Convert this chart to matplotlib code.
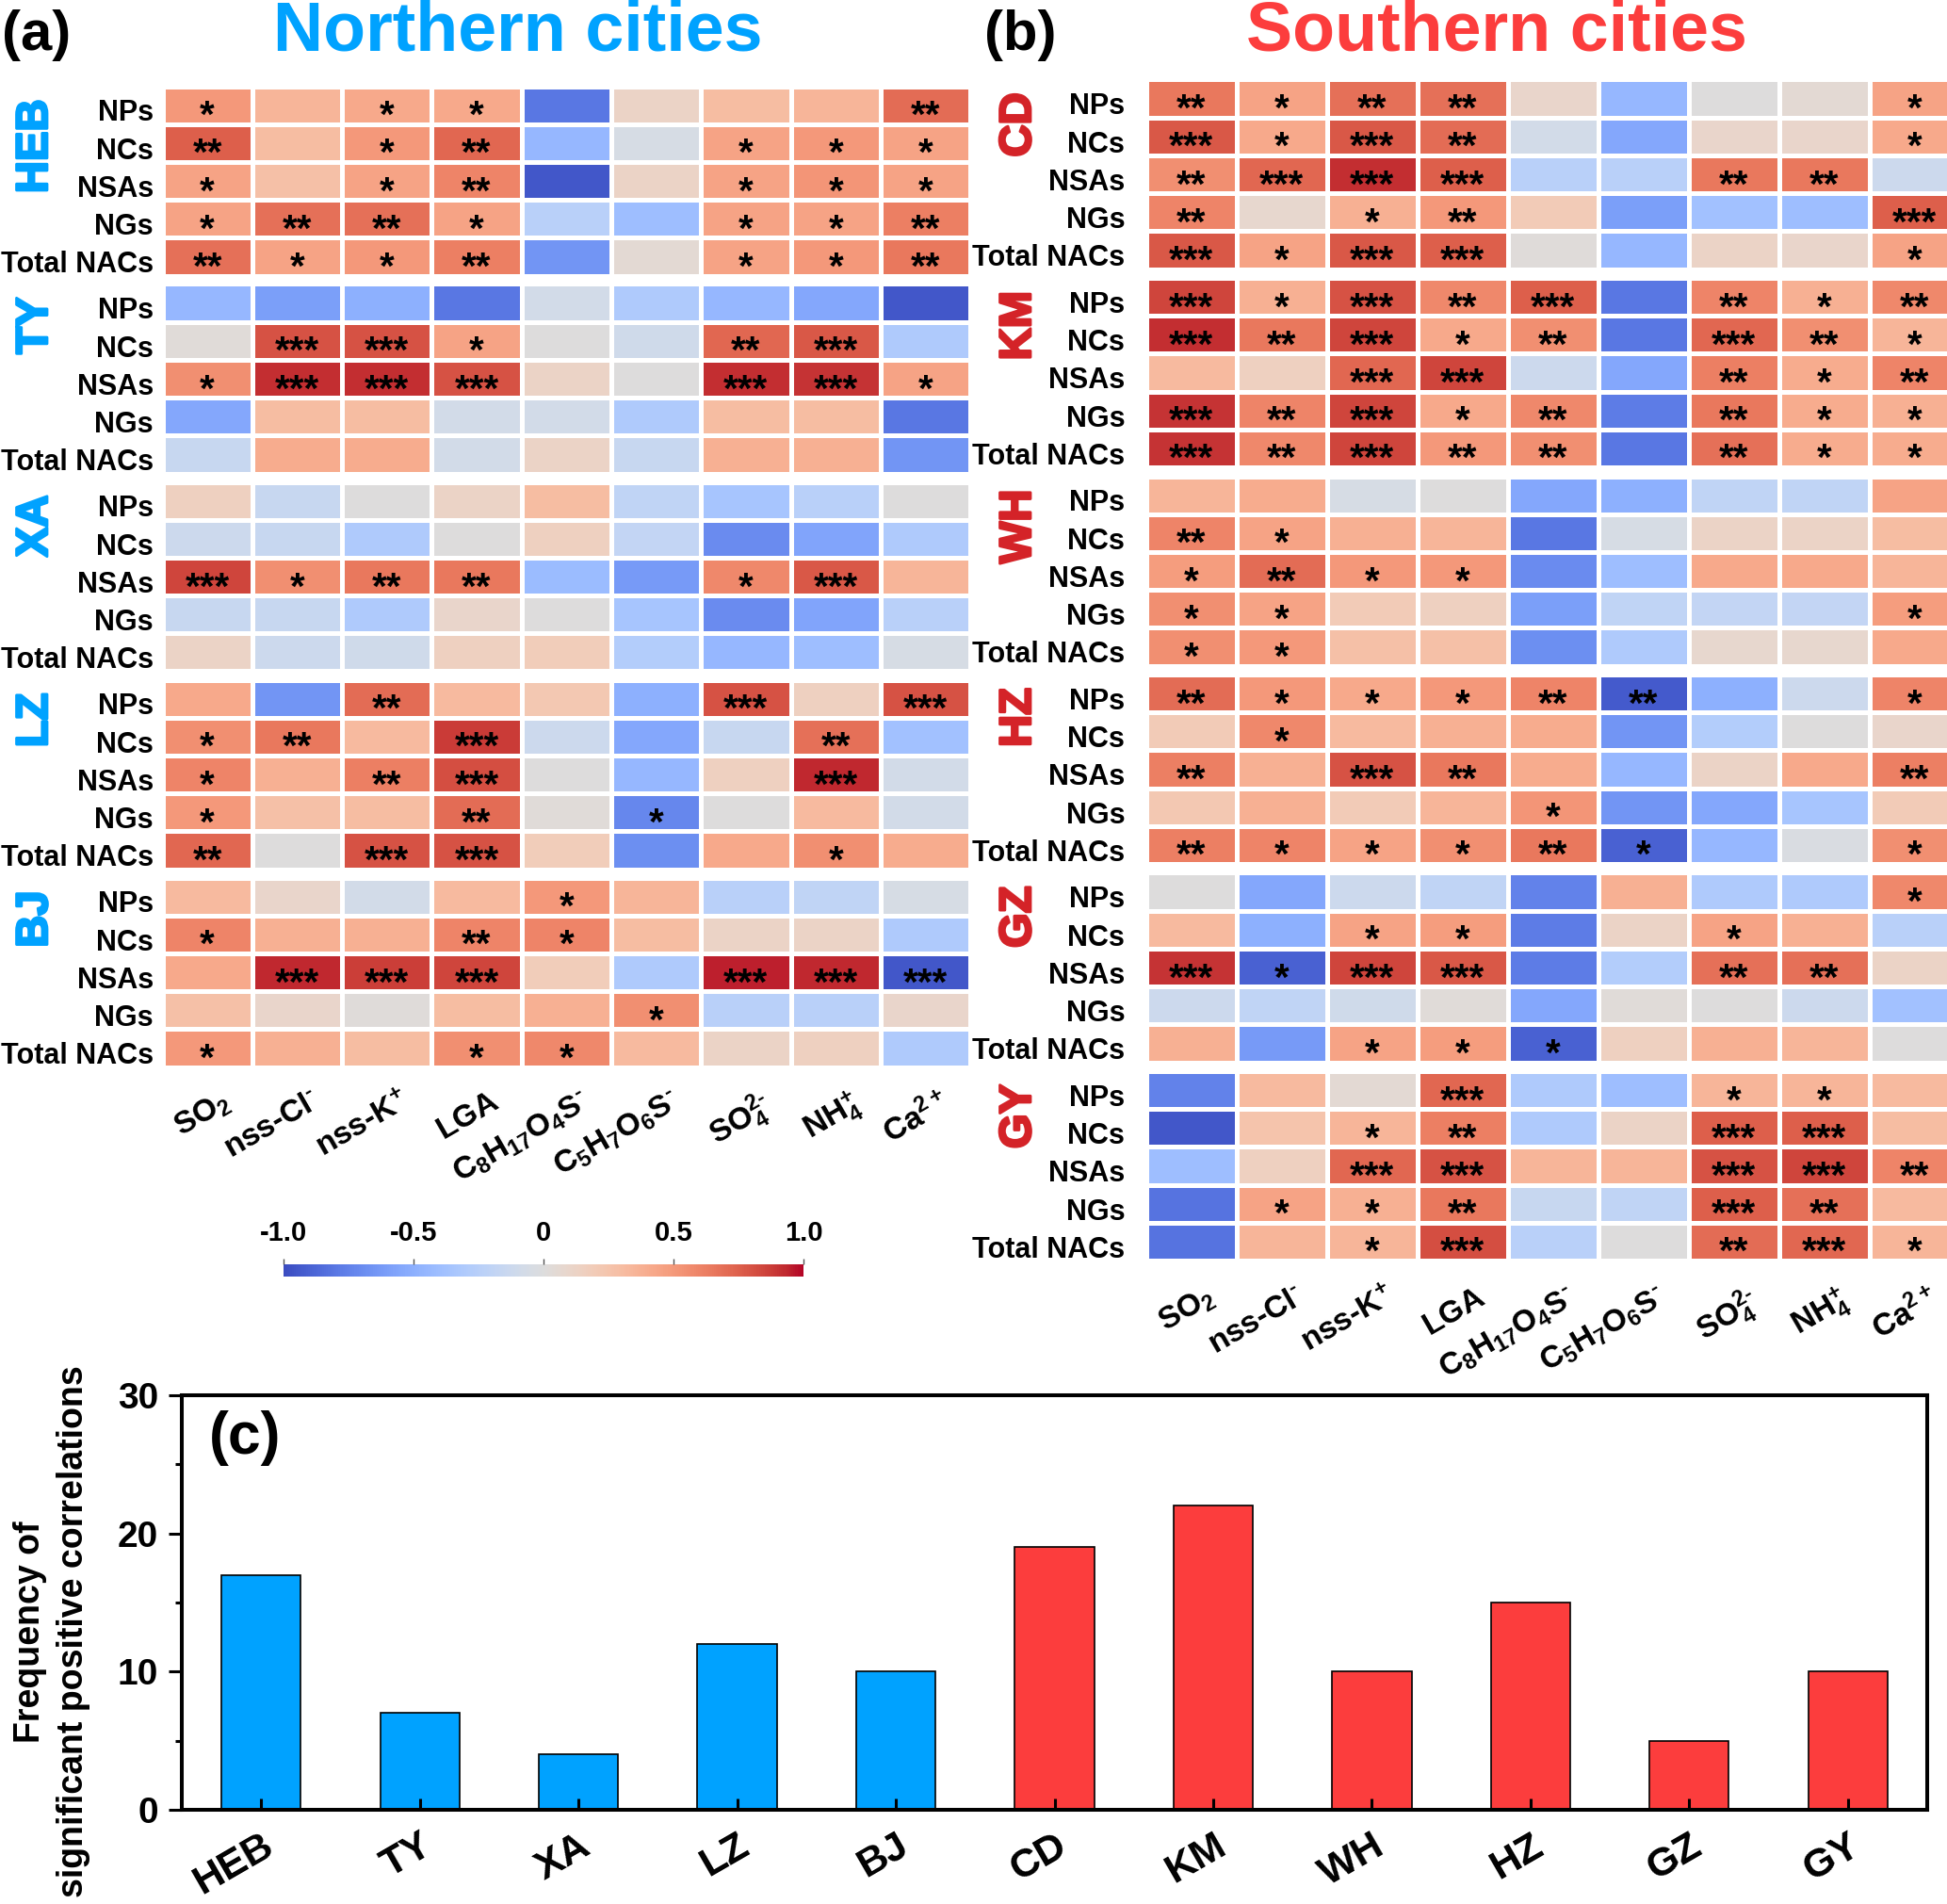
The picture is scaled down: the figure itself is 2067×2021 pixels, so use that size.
import matplotlib
matplotlib.use('Agg')
import matplotlib.pyplot as plt
import matplotlib as mpl
import numpy as np
from matplotlib import patheffects
from matplotlib.transforms import ScaledTranslation

plt.rcParams['font.family'] = ['Liberation Sans', 'DejaVu Sans']
plt.rcParams['mathtext.fontset'] = 'custom'
plt.rcParams['mathtext.rm'] = 'Liberation Sans:bold'
plt.rcParams['mathtext.it'] = 'Liberation Sans:bold'
plt.rcParams['mathtext.bf'] = 'Liberation Sans:bold'
plt.rcParams['mathtext.default'] = 'rm'

# ---------------- data ----------------
HY = '\u2010'   # short hyphen for the ion charges
rows = ['NPs', 'NCs', 'NSAs', 'NGs', 'Total NACs']
species = [r'SO$_2$', 'nss-Cl$^{' + HY + '}$', r'nss-K$^{+}$', 'LGA',
           r'C$_8$H$_{17}$O$_4$S$^{' + HY + '}$', r'C$_5$H$_7$O$_6$S$^{' + HY + '}$',
           r'SO$_4^{2' + HY + '}$', r'NH$_4^{+}$', r'Ca$^{2+}$']

north = ['HEB', 'TY', 'XA', 'LZ', 'BJ']
south = ['CD', 'KM', 'WH', 'HZ', 'GZ', 'GY']

# correlation coefficients (rows x species)
r_HEB = [[0.50, 0.35, 0.42, 0.42, -0.80, 0.12, 0.30, 0.35, 0.70],
         [0.75, 0.30, 0.50, 0.72, -0.45, -0.05, 0.45, 0.50, 0.45],
         [0.45, 0.28, 0.45, 0.60, -0.95, 0.12, 0.45, 0.52, 0.45],
         [0.45, 0.68, 0.68, 0.45, -0.25, -0.40, 0.45, 0.45, 0.62],
         [0.68, 0.45, 0.50, 0.62, -0.65, 0.05, 0.45, 0.50, 0.65]]
r_TY = [[-0.45, -0.60, -0.50, -0.80, -0.08, -0.30, -0.45, -0.55, -0.95],
        [0.03, 0.80, 0.80, 0.45, 0.00, -0.10, 0.72, 0.78, -0.30],
        [0.55, 0.92, 0.92, 0.80, 0.12, 0.00, 0.92, 0.90, 0.45],
        [-0.55, 0.30, 0.30, -0.08, -0.08, -0.30, 0.30, 0.30, -0.80],
        [-0.15, 0.40, 0.40, -0.08, 0.12, -0.15, 0.38, 0.38, -0.65]]
r_XA = [[0.15, -0.15, 0.00, 0.12, 0.30, -0.20, -0.35, -0.25, 0.00],
        [-0.12, -0.15, -0.30, 0.00, 0.15, -0.18, -0.70, -0.57, -0.30],
        [0.85, 0.55, 0.65, 0.65, -0.42, -0.62, 0.58, 0.78, 0.35],
        [-0.15, -0.15, -0.30, 0.10, 0.00, -0.35, -0.70, -0.57, -0.25],
        [0.12, -0.12, -0.10, 0.15, 0.18, -0.28, -0.45, -0.40, -0.05]]
r_LZ = [[0.42, -0.65, 0.70, 0.32, 0.22, -0.50, 0.80, 0.15, 0.80],
        [0.55, 0.65, 0.32, 0.88, -0.12, -0.55, -0.15, 0.68, -0.38],
        [0.60, 0.38, 0.62, 0.82, 0.00, -0.45, 0.15, 0.93, -0.08],
        [0.50, 0.28, 0.30, 0.70, 0.03, -0.72, 0.00, 0.32, -0.08],
        [0.72, 0.00, 0.80, 0.80, 0.18, -0.68, 0.42, 0.55, 0.40]]
r_BJ = [[0.32, 0.10, -0.08, 0.32, 0.50, 0.35, -0.25, -0.20, -0.05],
        [0.60, 0.38, 0.38, 0.60, 0.60, 0.30, 0.12, 0.12, -0.30],
        [0.42, 0.93, 0.87, 0.85, 0.18, -0.30, 0.95, 0.93, -0.95],
        [0.28, 0.10, 0.02, 0.30, 0.38, 0.55, -0.25, -0.25, 0.10],
        [0.50, 0.38, 0.30, 0.55, 0.58, 0.32, 0.12, 0.15, -0.30]]
r_CD = [[0.65, 0.45, 0.68, 0.68, 0.10, -0.45, 0.00, 0.05, 0.45],
        [0.78, 0.42, 0.78, 0.70, -0.08, -0.55, 0.10, 0.10, 0.42],
        [0.55, 0.72, 0.92, 0.75, -0.25, -0.25, 0.65, 0.65, -0.12],
        [0.60, 0.08, 0.38, 0.50, 0.20, -0.60, -0.38, -0.40, 0.75],
        [0.78, 0.45, 0.78, 0.75, 0.02, -0.45, 0.12, 0.10, 0.45]]
r_KM = [[0.85, 0.38, 0.80, 0.58, 0.75, -0.80, 0.60, 0.38, 0.58],
        [0.92, 0.65, 0.85, 0.42, 0.55, -0.80, 0.72, 0.55, 0.35],
        [0.32, 0.15, 0.72, 0.85, -0.12, -0.55, 0.62, 0.40, 0.60],
        [0.90, 0.60, 0.85, 0.42, 0.58, -0.78, 0.65, 0.40, 0.38],
        [0.90, 0.58, 0.85, 0.50, 0.55, -0.80, 0.68, 0.40, 0.40]]
r_WH = [[0.35, 0.40, -0.05, 0.00, -0.55, -0.50, -0.20, -0.20, 0.45],
        [0.60, 0.45, 0.38, 0.35, -0.80, -0.05, 0.12, 0.12, 0.30],
        [0.48, 0.70, 0.50, 0.50, -0.70, -0.40, 0.42, 0.42, 0.35],
        [0.55, 0.45, 0.20, 0.15, -0.60, -0.20, -0.18, -0.18, 0.48],
        [0.55, 0.50, 0.28, 0.28, -0.68, -0.30, 0.08, 0.08, 0.42]]
r_HZ = [[0.70, 0.50, 0.42, 0.50, 0.60, -0.93, -0.50, -0.12, 0.60],
        [0.20, 0.58, 0.32, 0.38, 0.40, -0.65, -0.28, 0.00, 0.10],
        [0.62, 0.38, 0.80, 0.65, 0.40, -0.45, 0.12, 0.42, 0.62],
        [0.22, 0.38, 0.20, 0.35, 0.52, -0.65, -0.55, -0.35, 0.20],
        [0.62, 0.60, 0.45, 0.55, 0.65, -0.90, -0.45, -0.03, 0.55]]
r_GZ = [[0.00, -0.55, -0.12, -0.20, -0.75, 0.38, -0.30, -0.30, 0.58],
        [0.32, -0.50, 0.45, 0.48, -0.78, 0.12, 0.45, 0.38, -0.25],
        [0.90, -0.90, 0.85, 0.78, -0.78, -0.28, 0.68, 0.68, 0.12],
        [-0.12, -0.20, -0.10, 0.03, -0.55, 0.03, 0.00, -0.12, -0.38],
        [0.38, -0.62, 0.45, 0.48, -0.90, 0.15, 0.38, 0.35, 0.00]]
r_GY = [[-0.75, 0.32, 0.05, 0.72, -0.30, -0.40, 0.35, 0.35, 0.32],
        [-0.95, 0.25, 0.35, 0.62, -0.30, 0.12, 0.75, 0.75, 0.30],
        [-0.40, 0.15, 0.72, 0.80, 0.35, 0.35, 0.80, 0.85, 0.60],
        [-0.82, 0.45, 0.38, 0.65, -0.15, -0.20, 0.75, 0.68, 0.32],
        [-0.82, 0.35, 0.35, 0.82, -0.25, 0.00, 0.70, 0.72, 0.35]]

# significance marks, '.' = none
s_HEB = ['* . * * . . . . **', '** . * ** . . * * *', '* . * ** . . * * *',
         '* ** ** * . . * * **', '** * * ** . . * * **']
s_TY = ['. . . . . . . . .', '. *** *** * . . ** *** .', '* *** *** *** . . *** *** *',
        '. . . . . . . . .', '. . . . . . . . .']
s_XA = ['. . . . . . . . .', '. . . . . . . . .', '*** * ** ** . . * *** .',
        '. . . . . . . . .', '. . . . . . . . .']
s_LZ = ['. . ** . . . *** . ***', '* ** . *** . . . ** .', '* . ** *** . . . *** .',
        '* . . ** . * . . .', '** . *** *** . . . * .']
s_BJ = ['. . . . * . . . .', '* . . ** * . . . .', '. *** *** *** . . *** *** ***',
        '. . . . . * . . .', '* . . * * . . . .']
s_CD = ['** * ** ** . . . . *', '*** * *** ** . . . . *', '** *** *** *** . . ** ** .',
        '** . * ** . . . . ***', '*** * *** *** . . . . *']
s_KM = ['*** * *** ** *** . ** * **', '*** ** *** * ** . *** ** *', '. . *** *** . . ** * **',
        '*** ** *** * ** . ** * *', '*** ** *** ** ** . ** * *']
s_WH = ['. . . . . . . . .', '** * . . . . . . .', '* ** * * . . . . .',
        '* * . . . . . . *', '* * . . . . . . .']
s_HZ = ['** * * * ** ** . . *', '. * . . . . . . .', '** . *** ** . . . . **',
        '. . . . * . . . .', '** * * * ** * . . *']
s_GZ = ['. . . . . . . . *', '. . * * . . * . .', '*** * *** *** . . ** ** .',
        '. . . . . . . . .', '. . * * * . . . .']
s_GY = ['. . . *** . . * * .', '. . * ** . . *** *** .', '. . *** *** . . *** *** **',
        '. * * ** . . *** ** .', '. . * *** . . ** *** *']

north_r = [r_HEB, r_TY, r_XA, r_LZ, r_BJ]
north_s = [s_HEB, s_TY, s_XA, s_LZ, s_BJ]
south_r = [r_CD, r_KM, r_WH, r_HZ, r_GZ, r_GY]
south_s = [s_CD, s_KM, s_WH, s_HZ, s_GZ, s_GY]

# frequency of significant positive correlations
bar_cities = north + south
freq = [17, 7, 4, 12, 10, 19, 22, 10, 15, 5, 10]

# ---------------- figure ----------------
W, H = 2067, 2021
fig = plt.figure(figsize=(W / 100, H / 100), dpi=100)

BLUE = '#00A2FF'
RED_T = '#FC3D3D'
RED_L = '#D42328'
STAR = 29   # pt
ROW_PX = 40.2


def box(left, top, width, height):
    return [left / W, 1 - (top + height) / H, width / W, height / H]


def block(left, top, pitch, vals, marks, city, ccolor, lab_gap, city_x, last, xpad):
    ax = fig.add_axes(box(left, top, 9 * pitch, 201))
    ax.pcolormesh(np.array(vals), cmap='coolwarm', vmin=-1, vmax=1,
                  edgecolors='white', linewidth=3.6)
    ax.set_xlim(0, 9)
    ax.set_ylim(5, 0)
    shift = 0.5 + 0.58 * STAR / 0.72 / ROW_PX
    for i, row in enumerate(marks):
        for j, m in enumerate(row.split()):
            if m != '.':
                ax.text(j + 0.5, i + shift, m, ha='center', va='baseline',
                        fontsize=STAR, fontweight='bold')
    for sp in ax.spines.values():
        sp.set_visible(False)
    ax.set_yticks(np.arange(5) + 0.92)
    ax.set_yticklabels(rows, fontsize=22, fontweight='bold', va='baseline')
    ax.tick_params(axis='y', length=0, pad=lab_gap)
    if last:
        ax.set_xticks(np.arange(9) + 0.5)
        ax.set_xticklabels(species, fontsize=24, fontweight='bold', rotation=30,
                           ha='right', va='top', rotation_mode='anchor')
        ax.tick_params(axis='x', length=0, pad=xpad)
        for lab in ax.get_xticklabels():
            lab.set_transform(lab.get_transform() +
                              ScaledTranslation(0.14, 0, fig.dpi_scale_trans))
    else:
        ax.set_xticks([])
    t = fig.text(city_x / W, 1 - (top + 14) / H, city, rotation=90, ha='center', va='top',
                 fontsize=34, fontweight='bold', color=ccolor)
    t.set_path_effects([patheffects.withStroke(linewidth=2, foreground=ccolor)])
    return ax


for k, (name, vals, marks) in enumerate(zip(north, north_r, north_s)):
    block(172.5, 91.5 + 210 * k, 95.3, vals, marks, name, BLUE, 7, 38,
          k == len(north) - 1, 15)

for k, (name, vals, marks) in enumerate(zip(south, south_r, south_s)):
    block(1216.5, 84.5 + 210.5 * k, 96, vals, marks, name, RED_L, 16, 1082,
          k == len(south) - 1, 16.5)

# titles
fig.text(2 / W, 1 - 53 / H, '(a)', fontsize=43, fontweight='bold', va='baseline')
fig.text(550 / W, 1 - 53 / H, 'Northern cities', fontsize=53, fontweight='bold',
         color=BLUE, ha='center', va='baseline')
fig.text(1045 / W, 1 - 53 / H, '(b)', fontsize=43, fontweight='bold', va='baseline')
fig.text(1589 / W, 1 - 53 / H, 'Southern cities', fontsize=53, fontweight='bold',
         color=RED_T, ha='center', va='baseline')

# colour bar
cax = fig.add_axes(box(301, 1342, 552, 13))
sm = mpl.cm.ScalarMappable(norm=mpl.colors.Normalize(-1, 1), cmap='coolwarm')
cb = fig.colorbar(sm, cax=cax, orientation='horizontal', ticks=[-1, -0.5, 0, 0.5, 1])
cb.outline.set_visible(False)
cax.xaxis.set_ticks_position('top')
cax.set_xticklabels(['-1.0', '-0.5', '0', '0.5', '1.0'], fontsize=21, fontweight='bold')
cax.tick_params(axis='x', length=4, width=1, color='#555555', pad=10)

# bar chart (c)
axc = fig.add_axes(box(193, 1481, 1853, 440))
xpos = np.arange(len(bar_cities))
bar_colors = [BLUE] * len(north) + [RED_T] * len(south)
axc.bar(xpos, freq, width=0.5, color=bar_colors, edgecolor='black', linewidth=1.2)
axc.set_xlim(-0.5, len(bar_cities) - 0.5)
axc.set_ylim(0, 30)
axc.set_yticks([0, 10, 20, 30])
axc.set_yticks([5, 15, 25], minor=True)
axc.set_yticklabels(['0', '10', '20', '30'], fontsize=28, fontweight='bold')
for sp in axc.spines.values():
    sp.set_linewidth(2.9)
axc.tick_params(axis='y', which='major', direction='out', length=10, width=2.2, pad=8)
axc.tick_params(axis='y', which='minor', direction='out', length=5, width=2.2)
axc.set_xticks(xpos)
axc.set_xticklabels(bar_cities, fontsize=31, fontweight='bold', rotation=30,
                    ha='right', va='top', rotation_mode='anchor')
axc.tick_params(axis='x', direction='in', length=8.6, width=2.2, pad=13)
fig.text(222 / W, 1 - 1497 / H, '(c)', fontsize=45, fontweight='bold', va='top')
fig.text(55 / W, 1 - 1732 / H, 'Frequency of\nsignificant positive correlations',
         rotation=90, ha='center', va='center', multialignment='center',
         fontsize=27, fontweight='bold', linespacing=1.35)

fig.savefig('out.png', dpi=100)
